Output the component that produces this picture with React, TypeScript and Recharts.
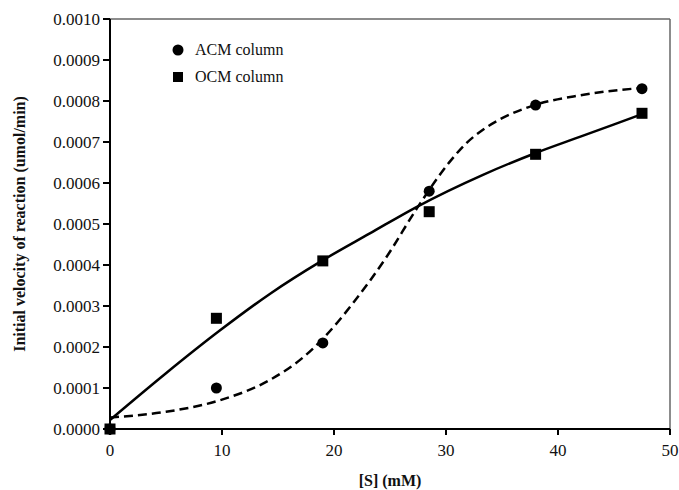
import React from 'react';
import { ComposedChart, Line, Scatter, XAxis, YAxis, ReferenceLine } from 'recharts';

document.body.style.margin = '0';

// measured points, [S] in mM, velocity in umol/min
const substrate = [0, 9.5, 19, 28.5, 38, 47.5];
const acmVelocity = [0.0, 0.0001, 0.00021, 0.00058, 0.00079, 0.00083];
const ocmVelocity = [0.0, 0.00027, 0.00041, 0.00053, 0.00067, 0.00077];

// fitted curves
const acmFitS = [0, 5, 9.8, 14.3, 17.3, 19, 21.7, 24.7, 27.4, 30.4, 31.85, 33.3, 34.8, 37.9, 42, 47.5];
const acmFitV = [
  0.000028, 0.000042, 0.00007, 0.00012, 0.000176, 0.00022, 0.000307, 0.00042, 0.000538,
  0.000654, 0.000698, 0.00073, 0.000755, 0.00079, 0.000814, 0.000832,
];
const ocmFitS = [0, 5, 9.8, 14.3, 18.9, 23.2, 27.4, 33.3, 37.9, 42, 47.5];
const ocmFitV = [
  0.000022, 0.000136, 0.00024, 0.00033, 0.00041, 0.000477, 0.000542, 0.00062, 0.000672,
  0.000713, 0.000768,
];

const xTicks = [0, 10, 20, 30, 40, 50];
const yTicks = [0, 0.0001, 0.0002, 0.0003, 0.0004, 0.0005, 0.0006, 0.0007, 0.0008, 0.0009, 0.001];

const toRows = (xs: number[], vs: number[]) => xs.map((s, i) => ({ s, v: vs[i] }));

const acmPoints = toRows(substrate, acmVelocity);
const ocmPoints = toRows(substrate, ocmVelocity);
const acmFit = toRows(acmFitS, acmFitV);
const ocmFit = toRows(ocmFitS, ocmFitV);

const font = '"Liberation Serif", "Times New Roman", serif';

const CircleDot = (props: any) => <circle cx={props.cx} cy={props.cy} r={5.5} fill="#000" />;
const SquareDot = (props: any) => (
  <rect x={props.cx - 5.5} y={props.cy - 5.5} width={11} height={11} fill="#000" />
);

const LegendBox = () => (
  <div
    style={{
      position: 'absolute',
      left: 170,
      top: 36,
      fontFamily: font,
      fontSize: 16,
      color: '#111',
      lineHeight: '27px',
    }}
  >
    <div style={{ display: 'flex', alignItems: 'center' }}>
      <svg width={25} height={14}>
        <circle cx={8} cy={7} r={5.5} fill="#000" />
      </svg>
      <span>ACM column</span>
    </div>
    <div style={{ display: 'flex', alignItems: 'center' }}>
      <svg width={25} height={14}>
        <rect x={3} y={2} width={10} height={10} fill="#000" />
      </svg>
      <span>OCM column</span>
    </div>
  </div>
);

export default function App() {
  return (
    <div style={{ position: 'relative', width: 679, height: 490, background: '#fff' }}>
      <ComposedChart width={679} height={490} margin={{ top: 19, right: 9, bottom: 0, left: 10 }}>
        <XAxis
          type="number"
          dataKey="s"
          domain={[0, 50]}
          ticks={xTicks}
          tickSize={6}
          tickMargin={9}
          height={61}
          stroke="#000"
          strokeWidth={2}
          tick={{ fill: '#111', fontSize: 17, fontFamily: font }}
          label={{
            value: '[S] (mM)',
            position: 'center',
            dy: 21,
            style: { fontFamily: font, fontSize: 16, fontWeight: 'bold', fill: '#111' },
          }}
        />
        <YAxis
          type="number"
          domain={[0, 0.001]}
          ticks={yTicks}
          tickFormatter={(v: number) => v.toFixed(4)}
          width={100}
          tickSize={7}
          tickMargin={3}
          stroke="#000"
          strokeWidth={2}
          tick={{ fill: '#111', fontSize: 17, fontFamily: font }}
          label={{
            value: 'Initial velocity of reaction (umol/min)',
            angle: -90,
            position: 'center',
            dx: -41,
            style: { fontFamily: font, fontSize: 16, fontWeight: 'bold', fill: '#111' },
          }}
        />
        <ReferenceLine y={0.001} stroke="#666" strokeWidth={1.5} />
        <ReferenceLine x={50} stroke="#666" strokeWidth={1.5} />
        <Line
          data={ocmFit}
          dataKey="v"
          type="monotoneX"
          stroke="#000"
          strokeWidth={2.5}
          dot={false}
          isAnimationActive={false}
        />
        <Line
          data={acmFit}
          dataKey="v"
          type="monotoneX"
          stroke="#000"
          strokeWidth={2.5}
          strokeDasharray="9 5"
          dot={false}
          isAnimationActive={false}
        />
        <Scatter data={acmPoints} dataKey="v" shape={CircleDot} isAnimationActive={false} />
        <Scatter data={ocmPoints} dataKey="v" shape={SquareDot} isAnimationActive={false} />
      </ComposedChart>
      <LegendBox />
    </div>
  );
}
